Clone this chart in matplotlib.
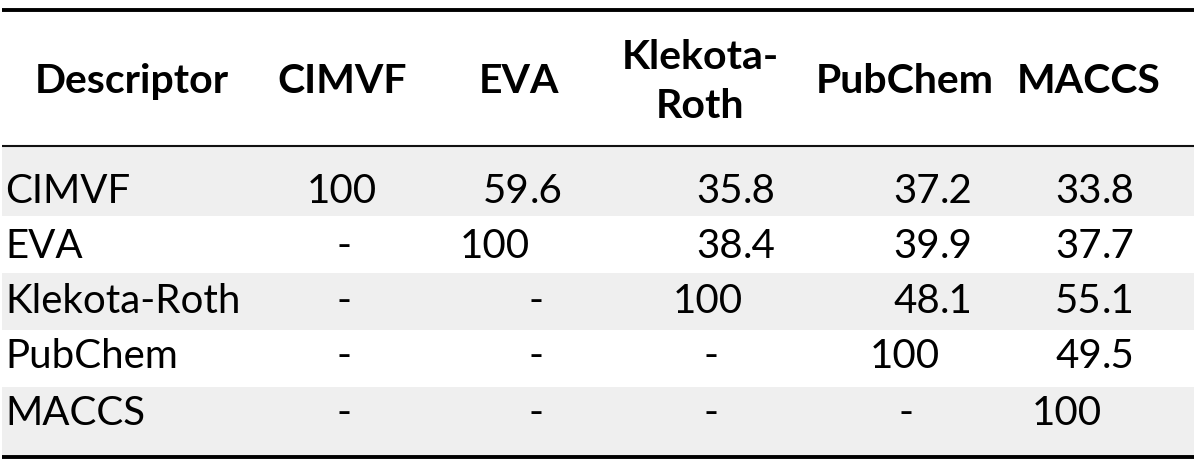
import numpy as np
import matplotlib
matplotlib.use('Agg')
import matplotlib.pyplot as plt

# table content
header = ['Descriptor', 'CIMVF', 'EVA', 'Klekota-\nRoth', 'PubChem', 'MACCS']
descriptors = ['CIMVF', 'EVA', 'Klekota-Roth', 'PubChem', 'MACCS']
# similarity (%), None = '-'
cimvf = [100, 59.6, 35.8, 37.2, 33.8]
eva = [None, 100, 38.4, 39.9, 37.7]
klekota = [None, None, 100, 48.1, 55.1]
pubchem = [None, None, None, 100, 49.5]
maccs = [None, None, None, None, 100]
rows = [cimvf, eva, klekota, pubchem, maccs]

# layout (pixel coordinates of a 1200x467 canvas)
W, H = 1200, 467
head_x = [132, 342, 519, 700, 905, 1089]
dec_x = [377, 530, 743, 940, 1102]      # decimal alignment point per column
dash_x = [344, 536, 711, 906, 1100]
row_edges = [146, 216, 273, 330, 387, 455]
baselines = [203, 258, 313, 368, 425]
shade = '#efefef'

plt.rcParams['font.family'] = ['Lato', 'DejaVu Sans']

fig = plt.figure(figsize=(12, 4.67), dpi=100)
ax = fig.add_axes([0, 0, 1, 1])
ax.set_xlim(0, W)
ax.set_ylim(H, 0)
ax.axis('off')

# alternating row shading
for i in range(len(descriptors)):
    if i % 2 == 0:
        ax.axhspan(row_edges[i], row_edges[i + 1], xmin=2 / W, xmax=1194 / W,
                   color=shade, lw=0, zorder=0)

# rules
ax.plot([2, 1194], [9.5, 9.5], color='black', lw=2.8, solid_capstyle='butt')
ax.plot([2, 1194], [145.5, 145.5], color='#111111', lw=1.5, solid_capstyle='butt')
ax.plot([2, 1194], [457, 457], color='black', lw=2.8, solid_capstyle='butt')

fs = 29
fs_head = 29.5
# header
for x, lab in zip(head_x, header):
    if '\n' in lab:
        l1, l2 = lab.split('\n')
        ax.text(x, 69, l1, ha='center', va='baseline', fontsize=fs_head, fontweight='bold')
        ax.text(x, 118, l2, ha='center', va='baseline', fontsize=fs_head, fontweight='bold')
    else:
        ax.text(x, 93, lab, ha='center', va='baseline', fontsize=fs_head, fontweight='bold')

# body
for i, (name, vals) in enumerate(zip(descriptors, rows)):
    y = baselines[i]
    ax.text(5, y, name, ha='left', va='baseline', fontsize=fs)
    for j, v in enumerate(vals):
        if v is None:
            ax.text(dash_x[j], y, '-', ha='center', va='baseline', fontsize=fs)
        elif float(v).is_integer():
            ax.text(dec_x[j], y, '%d' % v, ha='right', va='baseline', fontsize=fs)
        else:
            ip, fp = ('%.1f' % v).split('.')
            ax.text(dec_x[j], y, ip, ha='right', va='baseline', fontsize=fs)
            ax.text(dec_x[j], y, '.' + fp, ha='left', va='baseline', fontsize=fs)

fig.savefig('out.png', dpi=100)
